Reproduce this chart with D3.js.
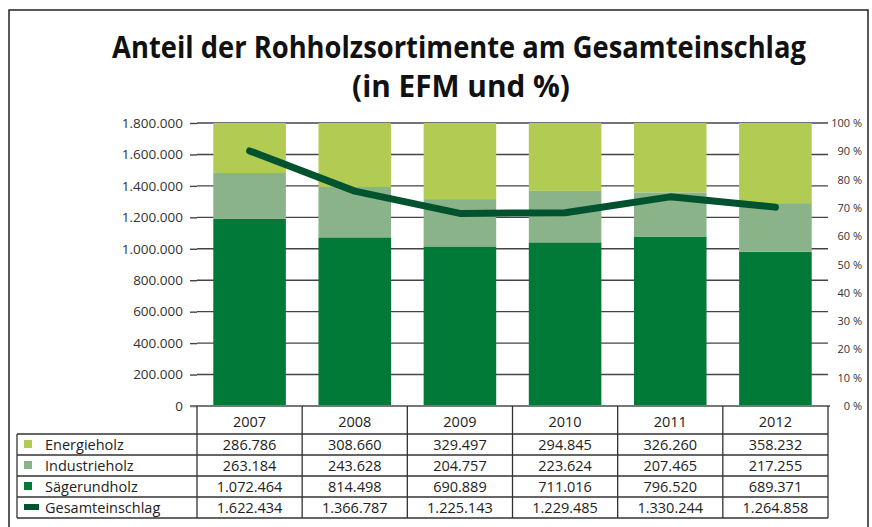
<!DOCTYPE html>
<html>
<head>
<meta charset="utf-8">
<script src="https://cdn.jsdelivr.net/npm/d3@7"></script>
<style>
  body { margin: 0; background: #fff; }
  svg { display: block; font-family: "Open Sans", "Noto Sans", sans-serif; }
</style>
</head>
<body>
<svg width="872" height="527"></svg>
<script>
const years = ['2007','2008','2009','2010','2011','2012'];
const energieholz = [286786, 308660, 329497, 294845, 326260, 358232];
const industrieholz = [263184, 243628, 204757, 223624, 207465, 217255];
const saegerundholz = [1072464, 814498, 690889, 711016, 796520, 689371];
const gesamteinschlag = [1622434, 1366787, 1225143, 1229485, 1330244, 1264858];
const leftTicks = [0, 200000, 400000, 600000, 800000, 1000000, 1200000, 1400000, 1600000, 1800000];
const pctTicks = [0, 10, 20, 30, 40, 50, 60, 70, 80, 90, 100];

const colors = {
  'Energieholz': '#b2cb53',
  'Industrieholz': '#8ab38a',
  'Sägerundholz': '#007a36',
  'Gesamteinschlag': '#00532e'
};

const de = d3.formatLocale({decimal: ',', thousands: '.', grouping: [3], currency: ['', ' €']});
const fmt = de.format(',d');

const svg = d3.select('svg');

// frame
svg.append('rect')
  .attr('x', 9).attr('y', 10)
  .attr('width', 859).attr('height', 540)
  .attr('fill', 'none').attr('stroke', '#222').attr('stroke-width', 1.5);

// title, squeezed horizontally to the narrow look of the original font
function title(txt, cx, yBase, w) {
  const t = svg.append('text').text(txt)
    .attr('x', 0).attr('y', 0)
    .attr('text-anchor', 'middle')
    .style('font-size', '31px').style('font-weight', 'bold').style('fill', '#111');
  const sx = w / t.node().getComputedTextLength();
  t.attr('transform', `translate(${cx},${yBase}) scale(${sx},1)`);
}
title('Anteil der Rohholzsortimente am Gesamteinschlag', 459, 58, 694);
title('(in EFM und %)', 461, 97, 218);

const x = d3.scaleBand().domain(years).range([197, 828]).paddingInner(0.31).paddingOuter(0.155);
const y = d3.scaleLinear().domain([0, 1800000]).range([406, 123]);
const yPct = d3.scaleLinear().domain([0, 100]).range([406, 123]);

// gridlines
svg.append('g').selectAll('line')
  .data(leftTicks.slice(1))
  .join('line')
  .attr('x1', 197).attr('x2', 828)
  .attr('y1', d => y(d)).attr('y2', d => y(d))
  .attr('stroke', '#444').attr('stroke-width', 1.4);

// left axis
const axL = svg.append('g').attr('transform', 'translate(197,0)')
  .call(d3.axisLeft(y).tickValues(leftTicks).tickSize(7).tickPadding(7).tickFormat(fmt));
axL.select('.domain').remove();
axL.selectAll('line').attr('stroke', '#444').attr('stroke-width', 1.4);
axL.selectAll('text').style('font-size', '13.5px').style('fill', '#333').style('font-family', '"Open Sans", sans-serif');

// right percent labels
svg.append('g').selectAll('text')
  .data(pctTicks)
  .join('text')
  .attr('x', 862).attr('y', d => yPct(d) + 4)
  .attr('text-anchor', 'end')
  .style('font-size', '11px').style('fill', '#333')
  .text(d => d + ' %');

// stacked percent bars
const rows = years.map((yr, i) => ({
  year: yr,
  'Sägerundholz': saegerundholz[i],
  'Industrieholz': industrieholz[i],
  'Energieholz': energieholz[i]
}));
const stack = d3.stack()
  .keys(['Sägerundholz', 'Industrieholz', 'Energieholz'])
  .offset(d3.stackOffsetExpand);

svg.append('g').selectAll('g')
  .data(stack(rows))
  .join('g')
  .attr('fill', d => colors[d.key])
  .selectAll('rect')
  .data(d => d)
  .join('rect')
  .attr('x', d => x(d.data.year))
  .attr('width', x.bandwidth())
  .attr('y', d => yPct(d[1] * 100))
  .attr('height', d => yPct(d[0] * 100) - yPct(d[1] * 100));

// bottom axis line
svg.append('line')
  .attr('x1', 190).attr('x2', 830).attr('y1', 406).attr('y2', 406)
  .attr('stroke', '#777').attr('stroke-width', 2);

// total line
const line = d3.line()
  .x((d, i) => x(years[i]) + x.bandwidth() / 2)
  .y(d => y(d));
svg.append('path')
  .datum(gesamteinschlag)
  .attr('d', line)
  .attr('fill', 'none')
  .attr('stroke', colors['Gesamteinschlag'])
  .attr('stroke-width', 7)
  .attr('stroke-linecap', 'round')
  .attr('stroke-linejoin', 'round');

// data table
const tableTop = 434;
const rowH = 21;
const tableRows = [
  {name: 'Energieholz', values: energieholz},
  {name: 'Industrieholz', values: industrieholz},
  {name: 'Sägerundholz', values: saegerundholz},
  {name: 'Gesamteinschlag', values: gesamteinschlag}
];
const tableBottom = tableTop + rowH * tableRows.length;
const colEdges = d3.range(years.length + 1).map(i => 197 + i * (631 / years.length));

const tbl = svg.append('g').attr('stroke', '#333').attr('stroke-width', 1.3);
// verticals through header and rows
tbl.selectAll('line.v')
  .data(colEdges)
  .join('line').attr('class', 'v')
  .attr('x1', d => d).attr('x2', d => d)
  .attr('y1', 406).attr('y2', tableBottom);
// left column edge
tbl.append('line').attr('x1', 17).attr('x2', 17).attr('y1', tableTop).attr('y2', tableBottom);
// horizontals
tbl.selectAll('line.h')
  .data(d3.range(tableRows.length + 1))
  .join('line').attr('class', 'h')
  .attr('x1', 17).attr('x2', 828)
  .attr('y1', i => tableTop + i * rowH).attr('y2', i => tableTop + i * rowH);

// header years
svg.append('g').selectAll('text')
  .data(years)
  .join('text')
  .attr('x', d => x(d) + x.bandwidth() / 2)
  .attr('y', 427)
  .attr('text-anchor', 'middle')
  .style('font-size', '14.5px').style('fill', '#222')
  .text(d => d);

const rowG = svg.append('g').selectAll('g')
  .data(tableRows)
  .join('g')
  .attr('transform', (d, i) => `translate(0,${tableTop + i * rowH})`);

rowG.append('rect')
  .attr('x', 24)
  .attr('y', d => d.name === 'Gesamteinschlag' ? 7 : 6)
  .attr('width', d => d.name === 'Gesamteinschlag' ? 15 : 8)
  .attr('height', d => d.name === 'Gesamteinschlag' ? 6 : 8)
  .attr('fill', d => colors[d.name]);

rowG.append('text')
  .attr('x', 45).attr('y', 16)
  .style('font-size', '14.5px').style('fill', '#222')
  .text(d => d.name);

rowG.selectAll('text.v')
  .data(d => d.values)
  .join('text').attr('class', 'v')
  .attr('x', (d, i) => x(years[i]) + x.bandwidth() / 2)
  .attr('y', 16)
  .attr('text-anchor', 'middle')
  .style('font-size', '14.5px').style('fill', '#222')
  .text(d => fmt(d));
</script>
</body>
</html>
